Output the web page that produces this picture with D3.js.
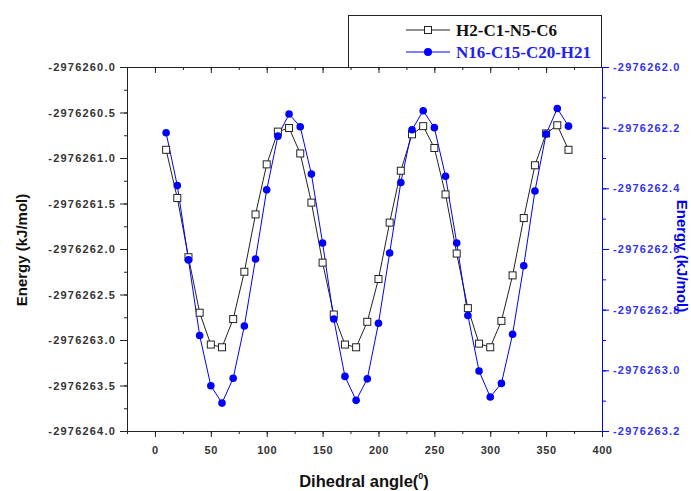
<!DOCTYPE html>
<html>
<head>
<meta charset="utf-8">
<script src="https://cdn.jsdelivr.net/npm/d3@7"></script>
<style>
  body { margin: 0; background: #fff; }
  svg { font-family: 'Liberation Sans', Arial, sans-serif; }
</style>
</head>
<body>
<svg id="chart" width="691" height="491"></svg>
<script>
// dihedral angles (deg)
const angles = [10, 20, 30, 40, 50, 60, 70, 80, 90, 100, 110, 120, 130, 140, 150, 160, 170, 180, 190,
  200, 210, 220, 230, 240, 250, 260, 270, 280, 290, 300, 310, 320, 330, 340, 350, 360, 370];

// H2-C1-N5-C6, offset from -2976260 (left axis)
const blackOffsets = [-0.91, -1.44, -2.09, -2.70, -3.05, -3.08, -2.77, -2.25, -1.62, -1.07, -0.71, -0.67, -0.95,
  -1.49, -2.15, -2.72, -3.05, -3.08, -2.80, -2.33, -1.71, -1.14, -0.74, -0.65, -0.89, -1.40, -2.05,
  -2.65, -3.04, -3.08, -2.79, -2.29, -1.66, -1.08, -0.73, -0.64, -0.91];

// N16-C15-C20-H21, offset from -2976262 (right axis)
const blueOffsets = [-0.217, -0.391, -0.636, -0.885, -1.051, -1.108, -1.026, -0.854, -0.633, -0.405, -0.228, -0.155,
  -0.197, -0.353, -0.580, -0.831, -1.020, -1.099, -1.028, -0.845, -0.613, -0.381, -0.207, -0.144, -0.200,
  -0.360, -0.580, -0.819, -1.002, -1.088, -1.043, -0.881, -0.655, -0.409, -0.221, -0.137, -0.195];

const seriesNames = ['H2-C1-N5-C6', 'N16-C15-C20-H21'];
const xTicks = [0, 50, 100, 150, 200, 250, 300, 350, 400];
const leftTicks = [-2976260.0, -2976260.5, -2976261.0, -2976261.5, -2976262.0, -2976262.5, -2976263.0, -2976263.5, -2976264.0];
const rightTicks = [-2976262.0, -2976262.2, -2976262.4, -2976262.6, -2976262.8, -2976263.0, -2976263.2];

const blackData = angles.map((a, i) => ({ x: a, y: -2976260 + blackOffsets[i] }));
const blueData = angles.map((a, i) => ({ x: a, y: -2976262 + blueOffsets[i] }));

const svg = d3.select('#chart');
const margin = { top: 67, right: 89, bottom: 60, left: 127 };
const width = +svg.attr('width') - margin.left - margin.right;
const height = +svg.attr('height') - margin.top - margin.bottom;
const g = svg.append('g').attr('transform', `translate(${margin.left},${margin.top})`);

const x = d3.scaleLinear().domain([-25, 400]).range([0, width]);
const yL = d3.scaleLinear().domain([-2976264, -2976260]).range([height, 0]);
const yR = d3.scaleLinear().domain([-2976263.2, -2976262.0]).range([height, 0]);

// plain hyphen minus like the original
const fmt1 = d => d3.format('.1f')(d).replace('\u2212', '-');

const tickFont = (sel, color, spacing) => sel.selectAll('text')
  .attr('font-size', 11).attr('font-weight', 'bold').attr('fill', color)
  .attr('letter-spacing', spacing)
  .attr('font-family', "'Liberation Sans', Arial, sans-serif");

// legend box sitting on top of the frame
const legend = svg.append('g');
legend.append('rect')
  .attr('x', 348.5).attr('y', 15.5).attr('width', 253).attr('height', 52)
  .attr('fill', '#fff').attr('stroke', '#222').attr('stroke-width', 1);

// frame (top line)
g.append('line').attr('x1', 0).attr('x2', width).attr('y1', 0.5).attr('y2', 0.5)
  .attr('stroke', '#222');

// bottom axis
const xMinor = d3.range(-25, 401, 25);
g.append('g').attr('transform', `translate(0,${height})`)
  .call(d3.axisBottom(x).tickValues(xMinor).tickSize(3).tickFormat(''))
  .call(a => a.select('.domain').attr('stroke', '#222'))
  .call(a => a.selectAll('line').attr('stroke', '#222'));
g.append('g').attr('transform', `translate(0,${height})`)
  .call(d3.axisBottom(x).tickValues(xTicks).tickSize(6).tickPadding(9).tickFormat(d3.format('d')))
  .call(a => a.select('.domain').remove())
  .call(a => a.selectAll('line').attr('stroke', '#222'))
  .call(a => tickFont(a, '#333', 0.6));

// top axis, inward ticks
g.append('g')
  .call(d3.axisTop(x).tickValues(xMinor).tickSize(-3).tickFormat(''))
  .call(a => a.select('.domain').remove())
  .call(a => a.selectAll('line').attr('stroke', '#222'));
g.append('g')
  .call(d3.axisTop(x).tickValues(xTicks).tickSize(-6).tickFormat(''))
  .call(a => a.select('.domain').remove())
  .call(a => a.selectAll('line').attr('stroke', '#222'));

// left axis
g.append('g')
  .call(d3.axisLeft(yL).tickValues(d3.range(0, 17).map(i => -2976264 + i * 0.25)).tickSize(3).tickFormat(''))
  .call(a => a.select('.domain').attr('stroke', '#222'))
  .call(a => a.selectAll('line').attr('stroke', '#222'));
g.append('g')
  .call(d3.axisLeft(yL).tickValues(leftTicks).tickSize(7).tickPadding(4).tickFormat(fmt1))
  .call(a => a.select('.domain').remove())
  .call(a => a.selectAll('line').attr('stroke', '#222'))
  .call(a => tickFont(a, '#333', 1.2));

// right axis (blue)
g.append('g').attr('transform', `translate(${width},0)`)
  .call(d3.axisRight(yR).tickValues(d3.range(0, 13).map(i => -2976263.2 + i * 0.1)).tickSize(4).tickFormat(''))
  .call(a => a.select('.domain').attr('stroke', '#0000ff'))
  .call(a => a.selectAll('line').attr('stroke', '#0000ff'));
g.append('g').attr('transform', `translate(${width},0)`)
  .call(d3.axisRight(yR).tickValues(rightTicks).tickSize(7).tickPadding(4).tickFormat(fmt1))
  .call(a => a.select('.domain').remove())
  .call(a => a.selectAll('line').attr('stroke', '#0000ff'))
  .call(a => tickFont(a, '#3333ee', 1.2));

// series lines
const line = yScale => d3.line().x(d => x(d.x)).y(d => yScale(d.y));
g.append('path').datum(blackData)
  .attr('d', line(yL)).attr('fill', 'none').attr('stroke', '#222').attr('stroke-width', 1);
g.append('path').datum(blueData)
  .attr('d', line(yR)).attr('fill', 'none').attr('stroke', '#0000ff').attr('stroke-width', 1);

g.selectAll('.sq').data(blackData).enter().append('rect')
  .attr('class', 'sq')
  .attr('x', d => x(d.x) - 3.5).attr('y', d => yL(d.y) - 3.5)
  .attr('width', 7).attr('height', 7)
  .attr('fill', '#fff').attr('stroke', '#222').attr('stroke-width', 1);
g.selectAll('.dot').data(blueData).enter().append('circle')
  .attr('class', 'dot')
  .attr('cx', d => x(d.x)).attr('cy', d => yR(d.y)).attr('r', 3.8)
  .attr('fill', '#0000ff');

// legend entries
const legItems = legend.selectAll('.item').data(seriesNames).enter().append('g')
  .attr('transform', (d, i) => `translate(0,${30 + i * 22})`);
legItems.append('line')
  .attr('x1', 406).attr('x2', 450).attr('y1', 0).attr('y2', 0)
  .attr('stroke', (d, i) => (i === 0 ? '#222' : '#0000ff'));
legItems.filter((d, i) => i === 0).append('rect')
  .attr('x', 424.5).attr('y', -3.5).attr('width', 7).attr('height', 7)
  .attr('fill', '#fff').attr('stroke', '#222');
legItems.filter((d, i) => i === 1).append('circle')
  .attr('cx', 428).attr('cy', 0).attr('r', 4).attr('fill', '#0000ff');
legItems.append('text')
  .attr('x', 456).attr('y', 0).attr('dy', '0.35em')
  .attr('font-family', "'Liberation Serif', 'Times New Roman', serif")
  .attr('font-weight', 'bold').attr('font-size', 17)
  .attr('fill', (d, i) => (i === 0 ? '#111' : '#2222ee'))
  .text(d => d);

// axis titles
svg.append('text')
  .attr('transform', 'translate(27,250) rotate(-90)')
  .attr('text-anchor', 'middle')
  .attr('font-weight', 'bold').attr('font-size', 15).attr('fill', '#111')
  .text('Energy (kJ/mol)');

svg.append('text')
  .attr('transform', 'translate(677,256) rotate(90)')
  .attr('text-anchor', 'middle')
  .attr('font-weight', 'bold').attr('font-size', 15).attr('fill', '#0000ee')
  .text('Energy (kJ/mol)');

const xt = svg.append('text')
  .attr('x', 364).attr('y', 487)
  .attr('text-anchor', 'middle')
  .attr('font-weight', 'bold').attr('font-size', 16.5).attr('fill', '#111');
xt.append('tspan').text('Dihedral angle(');
xt.append('tspan').attr('font-size', 9).attr('dy', -8).text('0');
xt.append('tspan').attr('dy', 8).text(')');
</script>
</body>
</html>
